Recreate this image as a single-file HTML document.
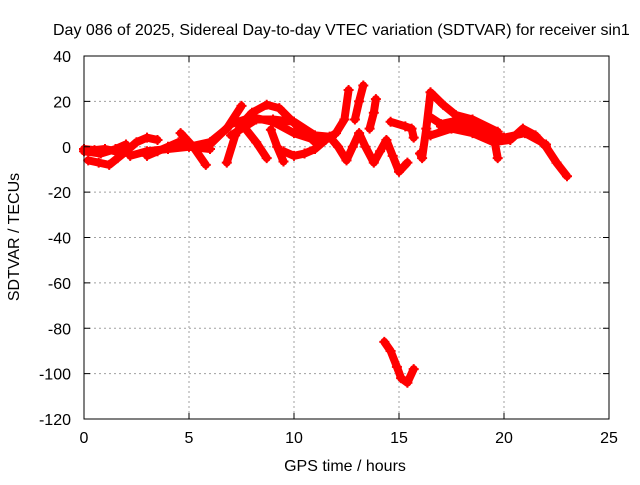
<!DOCTYPE html>
<html><head><meta charset="utf-8"><style>
body{margin:0;background:#fff}
svg text{font-family:"Liberation Sans",sans-serif;font-size:16px;fill:#000}
</style></head><body>
<svg id="chart" width="640" height="480" xmlns="http://www.w3.org/2000/svg">
<rect width="640" height="480" fill="#fff"/>
<g id="grid"></g><g id="marks"></g><g id="axes"></g>
</svg>
<script>
const xTicks=[0,5,10,15,20,25];
const yTicks=[40,20,0,-20,-40,-60,-80,-100,-120];
const track1=[[0,-1],[0.5,-1.5],[1,-1],[1.5,-2],[2,-1]];
const track2=[[0.2,-6],[0.7,-7],[1.2,-8],[1.6,-5],[2,-2]];
const track3=[[2,-2],[2.5,2],[3,4],[3.5,3]];
const track4=[[2.2,-4],[3,-2],[4,-1],[5,0],[6,-1]];
const track5=[[3,-4],[3.5,-2],[4,0],[4.5,2],[5,1]];
const track6=[[4.6,6],[5.2,0],[5.8,-8]];
const track7=[[5,0],[6,2],[6.8,8],[7.5,18]];
const track8=[[6.8,-7],[7.2,5],[7.5,10],[8,15],[8.7,18.5],[9.3,17],[10,10.5],[11,2],[11.5,4]];
const track9=[[7,5],[8.2,12],[9,12],[10,11],[11,5],[11.7,4.4]];
const track10=[[7.6,9],[8.2,2],[8.7,-5]];
const track11=[[8.9,7.5],[9.2,0],[9.5,-6.5]];
const track12=[[9.5,-2],[10,-4],[10.5,-3],[11,-1],[11.5,3],[12,6],[12.4,12],[12.6,25]];
const track13=[[11.7,4.4],[12.1,0],[12.5,-6],[12.8,0],[13.1,6],[13.4,0],[13.8,-7],[14.1,-2],[14.4,3],[14.7,-4],[15,-11],[15.4,-7]];
const track14=[[12.9,12],[13.1,20],[13.3,27]];
const track15=[[13.6,8],[13.8,15],[13.9,21]];
const track16=[[14.6,11],[15.3,9],[15.6,8],[15.7,4]];
const track17=[[16,-3],[16.1,-5],[16.3,8],[16.5,24],[17.1,18.5],[17.7,14],[18.5,12],[19.7,6.6]];
const track18=[[16.5,13],[17,10],[18,12],[18.7,9],[19.5,5],[19.7,-5]];
const track19=[[16.5,5],[17.5,8],[18.5,6],[19.5,2],[20.3,3],[20.9,8],[21.5,5],[22,0],[22.5,-7],[23,-13]];
const track20=[[14.3,-86],[14.6,-90],[14.9,-97],[15.1,-102],[15.4,-104],[15.7,-98]];
const track21=[[0,-2],[0.8,-3],[1.5,-1],[2,1]];
const track22=[[6,1],[7,10],[8,13],[9,11],[10,6],[11,3]];
const track23=[[17,9],[18,9],[19,7],[20,4],[21,6],[22,1]];
const tracks=[track1,track2,track3,track4,track5,track6,track7,track8,track9,track10,track11,track12,track13,track14,track15,track16,track17,track18,track19,track20,track21,track22,track23];
const X0=84,X1=609,Y0=419,Y1=56;
const sx=h=>X0+(h-0)/(25-0)*(X1-X0);
const sy=v=>Y0-(v+120)/160*(Y0-Y1);
const NS="http://www.w3.org/2000/svg";
function mk(t,a,p){const e=document.createElementNS(NS,t);for(const k in a)e.setAttribute(k,a[k]);p.appendChild(e);return e;}
const grid=document.getElementById('grid'),marks=document.getElementById('marks'),axes=document.getElementById('axes');
xTicks.forEach(t=>{const x=sx(t);
 if(t>0&&t<25){const g=mk('line',{x1:x,x2:x,y1:Y1,y2:Y0,stroke:'#a0a0a0','stroke-dasharray':'2,3'},grid);
 
 }
 mk('line',{x1:x,x2:x,y1:Y0,y2:Y0-6,stroke:'#000'},axes);
 mk('line',{x1:x,x2:x,y1:Y1,y2:Y1+6,stroke:'#000'},axes);
 const l=mk('text',{x:x,y:443,'text-anchor':'middle'},axes);l.textContent=t;
 
 });
yTicks.forEach(t=>{const y=sy(t);
 if(t<40&&t>-120){const g=mk('line',{x1:X0,x2:X1,y1:y,y2:y,stroke:'#a0a0a0','stroke-dasharray':'2,3'},grid);
 
 }
 mk('line',{x1:X0,x2:X0+6,y1:y,y2:y,stroke:'#000'},axes);
 mk('line',{x1:X1,x2:X1-6,y1:y,y2:y,stroke:'#000'},axes);
 const l=mk('text',{x:71,y:y+6,'text-anchor':'end'},axes);l.textContent=t;
 
 });
const b=mk('rect',{x:X0,y:Y1,width:X1-X0,height:Y0-Y1,fill:'none',stroke:'#000'},axes);


tracks.forEach((tr,i)=>{
 const pl=mk('polyline',{points:tr.map(p=>sx(p[0])+','+sy(p[1])).join(' '),fill:'none',stroke:'#f00','stroke-width':8,'stroke-linejoin':'round','stroke-linecap':'round'},marks);
 
 
 tr.forEach(p=>{const x=sx(p[0]),y=sy(p[1]);
  const m=mk('path',{d:`M${x-5} ${y}H${x+5}M${x} ${y-5}V${y+5}`,stroke:'#f00','stroke-width':2},marks);
  
  });
});
let t=mk('text',{x:53,y:35},axes);t.textContent='Day 086 of 2025, Sidereal Day-to-day VTEC variation (SDTVAR) for receiver sin1';


t=mk('text',{x:345,y:471,'text-anchor':'middle'},axes);t.textContent='GPS time / hours';


t=mk('text',{x:0,y:0,'text-anchor':'middle',transform:'translate(19,237) rotate(-90)'},axes);t.textContent='SDTVAR / TECUs';


</script>
</body></html>
